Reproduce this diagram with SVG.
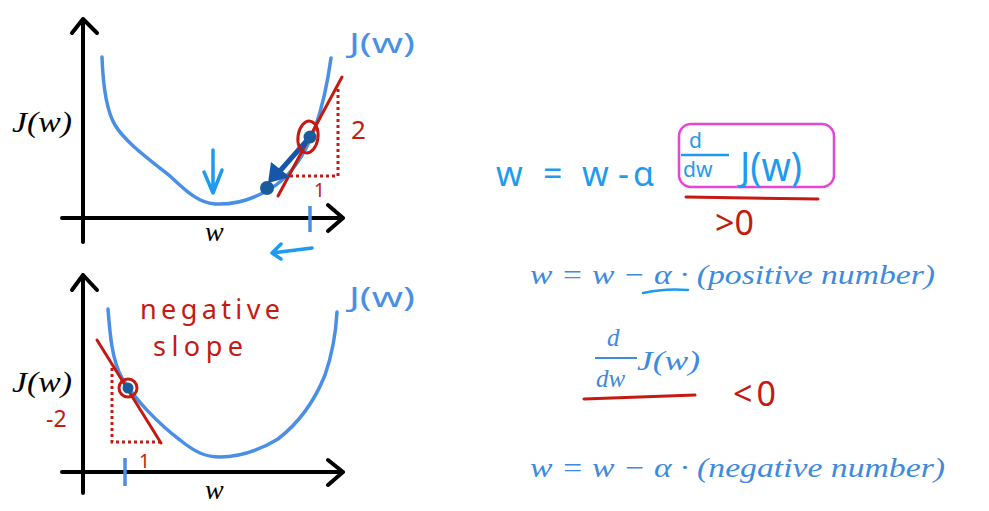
<svg xmlns="http://www.w3.org/2000/svg" width="989" height="511" viewBox="0 0 989 511">
<style>
.axis{stroke:#000;stroke-width:4;fill:none;stroke-linecap:round;stroke-linejoin:round}
.curve{stroke:#4a8fe6;stroke-width:3.5;fill:none;stroke-linecap:round}
.red{stroke:#c41a12;stroke-width:3;fill:none;stroke-linecap:round}
.dot{stroke:#c41a12;stroke-width:3;fill:none;stroke-dasharray:3 3}
.hb{stroke:#1e9bf0;stroke-width:3.5;fill:none;stroke-linecap:round;stroke-linejoin:round}
.math{font-family:"Liberation Serif","DejaVu Serif",serif;font-style:italic;fill:#000}
.bmath{font-family:"Liberation Serif","DejaVu Serif",serif;font-style:italic;fill:#3d8ae0}
.hand{font-family:"Noto Sans","DejaVu Sans",sans-serif}
.hblue{fill:#1e9bf0}
.hred{fill:#c41a12}
.lblue{fill:#4a8fe6}
</style>
<rect width="989" height="511" fill="#fff"/>

<g id="top-graph">
  <path class="axis" d="M83,242 V19 M72,33 L83,19 L97,33"/>
  <path class="axis" d="M62,218 H343 M328,205 L343,218 L328,231"/>
  <path class="curve" d="M102,57 C103,85 106,110 115,125 C125,142 150,160 170,176 C185,190 198,203 215,204 C235,205 255,198 270,189 C290,177 305,155 315,128 C323,105 328,80 331,58"/>
  <path class="dot" d="M290,176 H338 V86"/>
  <path class="red" d="M278,196 L342,77"/>
  <line x1="310" y1="137" x2="279" y2="172" stroke="#1656a8" stroke-width="5" stroke-linecap="round"/>
  <polygon points="268,183 271,162 290,177" fill="#1656a8"/>
  <circle cx="267" cy="188" r="7" fill="#1a5b9c"/>
  <circle cx="310" cy="137" r="6.5" fill="#1a5b9c"/>
  <ellipse cx="308" cy="137" rx="10" ry="16" class="red" transform="rotate(8 308 137)"/>
  <path class="hb" d="M213,150 V192 M204,172 L213,193 L222,170"/>
  <line x1="310" y1="206" x2="310" y2="232" stroke="#4a8fe6" stroke-width="3.5"/>
  <path class="hb" d="M312,248 L272,253 M281,244 L272,253 L281,259"/>
  <text x="12" y="132" class="math" font-size="29" textLength="60" lengthAdjust="spacingAndGlyphs">J(w)</text>
  <text x="205" y="241" class="math" font-size="28">w</text>
  <text x="349" y="53" class="hand lblue" font-size="28" textLength="66" lengthAdjust="spacingAndGlyphs">J(w)</text>
  <text x="351" y="139" class="hand hred" font-size="26">2</text>
  <text x="314" y="197" class="hand hred" font-size="19">1</text>
</g>

<g id="bottom-graph">
  <path class="axis" d="M83,493 V275 M72,290 L83,275 L97,290"/>
  <path class="axis" d="M62,472 H343 M328,460 L343,472 L328,485"/>
  <path class="curve" d="M108,309 C110,335 112,360 122,378 C135,400 160,425 180,440 C195,452 205,457 220,457 C240,457 260,450 278,439 C300,422 315,400 325,375 C333,352 336,330 337,312"/>
  <path class="dot" d="M112,368 V442 H160"/>
  <path class="red" d="M97,340 L161,443"/>
  <circle cx="128" cy="388" r="5.5" fill="#1a5b9c"/>
  <circle cx="128" cy="388" r="9" class="red"/>
  <line x1="125" y1="458" x2="125" y2="486" stroke="#4a8fe6" stroke-width="3.5"/>
  <text x="12" y="392" class="math" font-size="29" textLength="60" lengthAdjust="spacingAndGlyphs">J(w)</text>
  <text x="205" y="499" class="math" font-size="28">w</text>
  <text x="349" y="307" class="hand lblue" font-size="28" textLength="66" lengthAdjust="spacingAndGlyphs">J(w)</text>
  <text x="140" y="319" class="hand hred" font-size="27" textLength="140" lengthAdjust="spacing">negative</text>
  <text x="153" y="356" class="hand hred" font-size="27" textLength="90" lengthAdjust="spacing">slope</text>
  <text x="46" y="427" class="hand hred" font-size="23">-2</text>
  <text x="139" y="468" class="hand hred" font-size="19">1</text>
</g>

<g id="update-rule">
  <text x="496" y="186" class="hand hblue" font-size="34">w</text>
  <text x="543" y="186" class="hand hblue" font-size="34">=</text>
  <text x="582" y="186" class="hand hblue" font-size="34">w</text>
  <text x="618" y="186" class="hand hblue" font-size="34">-</text>
  <text x="633" y="186" class="hand hblue" font-size="34">α</text>
  <rect x="679" y="124" width="155" height="63" rx="12" fill="none" stroke="#e645d6" stroke-width="2.5"/>
  <text x="689" y="148" class="hand hblue" font-size="21">d</text>
  <line x1="681" y1="155" x2="729" y2="155" stroke="#1e9bf0" stroke-width="2.5"/>
  <text x="683" y="177" class="hand hblue" font-size="21">dw</text>
  <text x="740" y="181" class="hand hblue" font-size="40" textLength="62" lengthAdjust="spacingAndGlyphs">J(w)</text>
  <path class="red" d="M686,197 L818,199" stroke-width="2.5"/>
  <text x="715" y="235" class="hand hred" font-size="34">&gt;0</text>
</g>

<g id="positive-case">
  <text x="530" y="284" class="bmath" font-size="28" textLength="405" lengthAdjust="spacingAndGlyphs">w = w − α · (positive number)</text>
  <path d="M643,293 Q665,288 688,290" stroke="#1e9bf0" stroke-width="2.5" fill="none" stroke-linecap="round"/>
</g>

<g id="negative-derivative">
  <text x="607" y="346" class="bmath" font-size="25">d</text>
  <line x1="595" y1="358" x2="637" y2="358" stroke="#3d8ae0" stroke-width="2"/>
  <text x="596" y="387" class="bmath" font-size="25">dw</text>
  <text x="637" y="370" class="bmath" font-size="28" textLength="63" lengthAdjust="spacingAndGlyphs">J(w)</text>
  <path class="red" d="M584,399 L695,395" stroke-width="2.5"/>
  <text x="733" y="406" class="hand hred" font-size="34" letter-spacing="4">&lt;0</text>
</g>

<g id="negative-case">
  <text x="530" y="477" class="bmath" font-size="28" textLength="415" lengthAdjust="spacingAndGlyphs">w = w − α · (negative number)</text>
</g>
</svg>
